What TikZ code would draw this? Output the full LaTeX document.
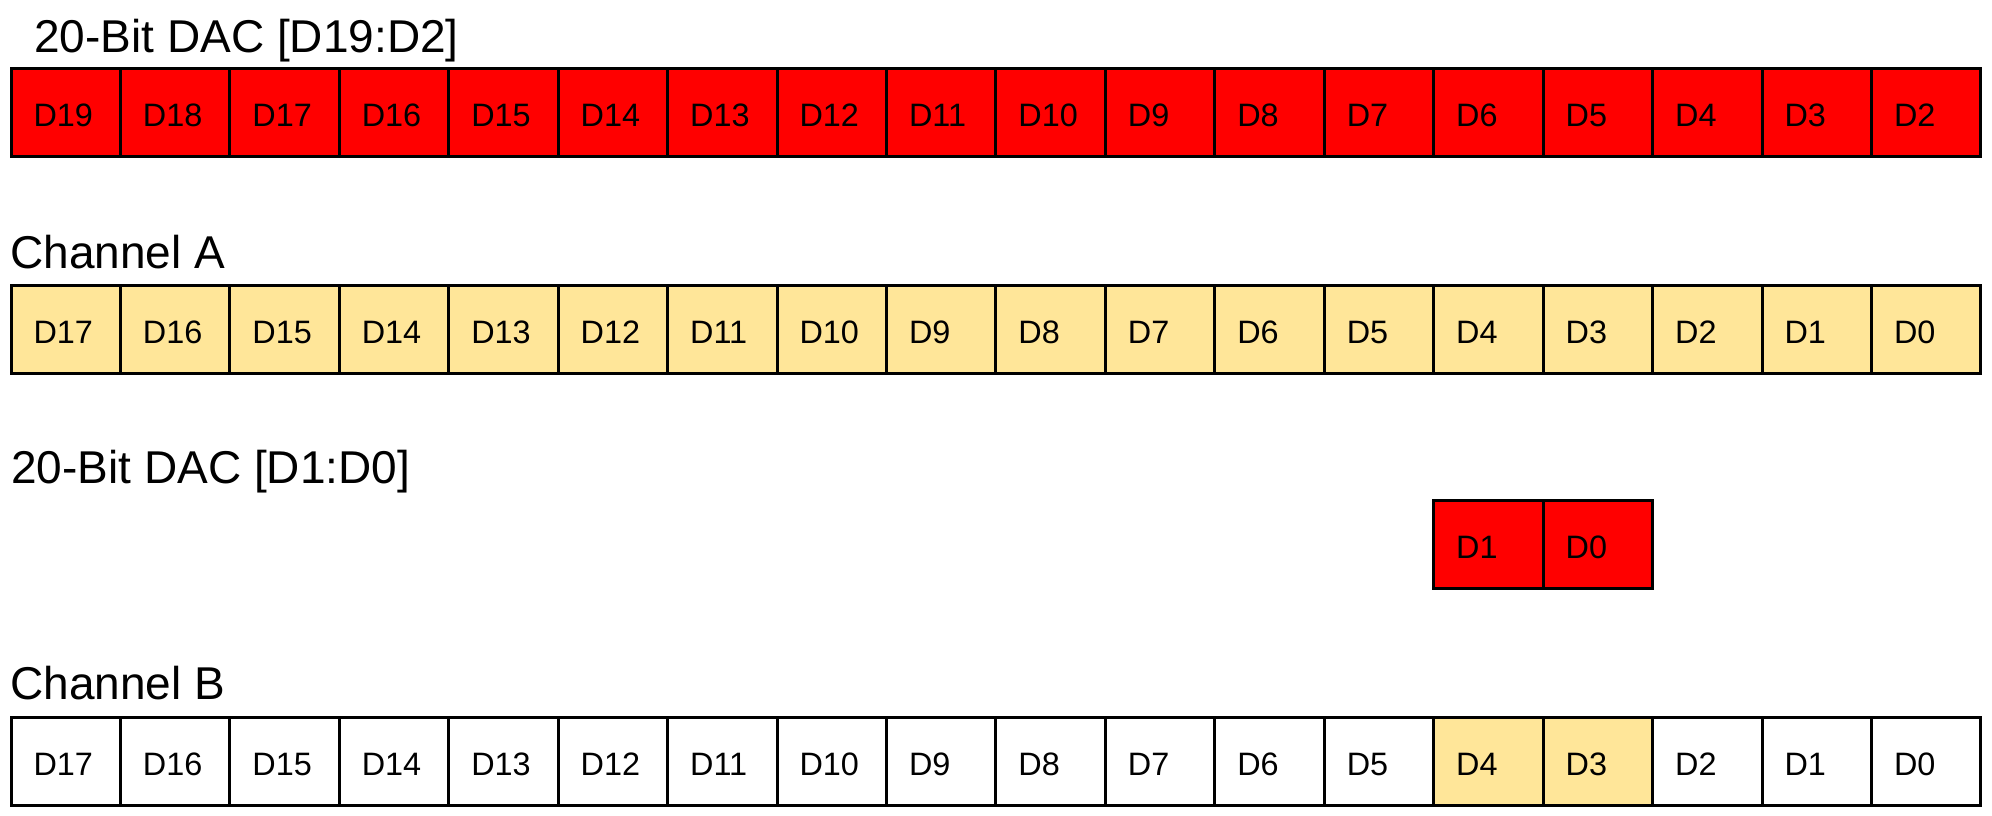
\documentclass[tikz,border=0pt]{standalone}
\usepackage{fontspec}
\setmainfont{Liberation Sans}
\usepackage{xcolor}
\usetikzlibrary{positioning}
\definecolor{dacred}{HTML}{FF0000}
\definecolor{chanyellow}{HTML}{FFE699}

\begin{document}
\begin{tikzpicture}[x=0.5pt,y=-0.5pt,
  bitcell/.style={draw,line width=1.5pt,rectangle,anchor=north west,outer sep=0pt,
    inner xsep=11.25pt,inner ysep=0pt,text width=32.22pt,align=left,
    text height=29pt,text depth=15pt,font=\fontsize{16.2}{19}\selectfont},
  rowlabel/.style={anchor=base west,inner sep=0pt,font=\fontsize{23}{27}\selectfont}]
\useasboundingbox (0,0) rectangle (1992,815);

% row labels
\node[rowlabel] (lbldachi) at (34,52) {20-Bit DAC [D19:D2]};
\node[rowlabel] (lblchA) at (10,268) {Channel A};
\node[rowlabel] (lbldaclo) at (11,483) {20-Bit DAC [D1:D0]};
\node[rowlabel] (lblchB) at (10,699) {Channel B};

% 20-bit DAC upper bits
\foreach \i in {0,...,17}{
  \pgfmathtruncatemacro{\bit}{19-\i}
  \node[bitcell,fill=dacred] (dac\bit) at (11+\i*109.44,68) {D\bit};
}
% channel A
\foreach \i in {0,...,17}{
  \pgfmathtruncatemacro{\bit}{17-\i}
  \node[bitcell,fill=chanyellow] (chA\bit) at (11+\i*109.44,285) {D\bit};
}
% 20-bit DAC lower bits
\node[bitcell,fill=dacred] (dac1) at (11+13*109.44,500) {D1};
\node[bitcell,fill=dacred] (dac0) at (11+14*109.44,500) {D0};
% channel B
\foreach \i in {0,...,17}{
  \pgfmathtruncatemacro{\bit}{17-\i}
  \ifnum\bit=4 \def\cellfill{chanyellow}\else\ifnum\bit=3 \def\cellfill{chanyellow}\else\def\cellfill{white}\fi\fi
  \node[bitcell,fill=\cellfill] (chB\bit) at (11+\i*109.44,717) {D\bit};
}
\end{tikzpicture}
\end{document}
